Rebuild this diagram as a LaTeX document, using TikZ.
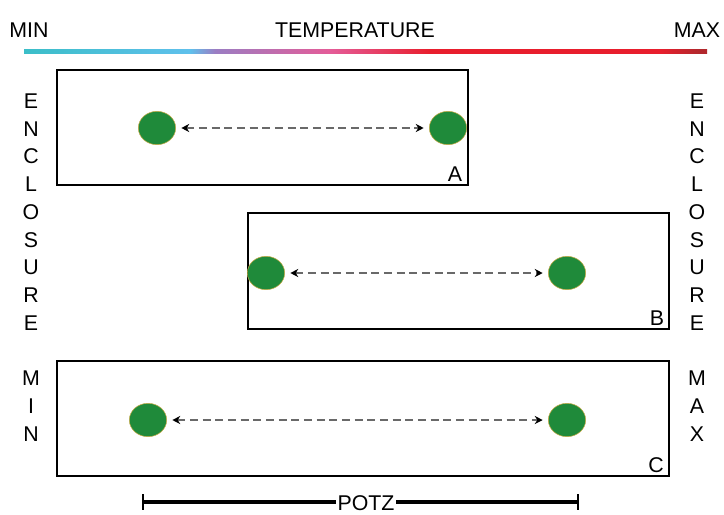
\documentclass[tikz,border=0pt]{standalone}
\usepackage{fontspec}
\setmainfont{Liberation Sans}
\usetikzlibrary{arrows.meta,shapes.geometric}

\definecolor{blobgreen}{RGB}{31,138,58}
\definecolor{blobrim}{RGB}{196,170,70}
\definecolor{dashgray}{RGB}{105,105,105}
\definecolor{tteal}{RGB}{59,190,200}
\definecolor{tblue}{RGB}{95,192,236}
\definecolor{tpurple}{RGB}{155,125,195}
\definecolor{tpink}{RGB}{228,92,152}
\definecolor{tred}{RGB}{232,30,45}
\definecolor{tdark}{RGB}{178,40,45}

\pgfdeclarehorizontalshading{tempbar}{100bp}{color(0bp)=(tteal); color(25bp)=(tteal);
  color(37.15bp)=(tblue); color(39bp)=(tpurple); color(47.4bp)=(tpink);
  color(54.7bp)=(tred); color(71.55bp)=(tred); color(74.4bp)=(tdark);
  color(75bp)=(tdark); color(100bp)=(tdark)}

\tikzset{every picture/.style={line width=0.75pt}}
\tikzset{
  lbl/.style={inner sep=0.75pt, font=\fontsize{16}{18}\selectfont},
  encl/.style={draw=black, line width=1.2pt},
  blob/.style={ellipse, fill=blobgreen, draw=blobrim, line width=0.4pt,
    minimum width=28pt, minimum height=25pt, inner sep=0pt},
  link/.style={draw=dashgray, line width=1.1pt, dash pattern=on 6pt off 3.5pt,
    {Stealth[black,length=6pt,width=6pt]}-{Stealth[black,length=6pt,width=6pt]},
    shorten <=4pt, shorten >=4pt},
  scalebar/.style={draw=black, line width=3pt},
}

\begin{document}
\begin{tikzpicture}[x=0.75pt,y=0.75pt,yscale=-1,xscale=1]
\useasboundingbox (0,0) rectangle (724,514);

% Temperature bar
\shade [shading=tempbar] (24,49.5) rectangle (707,53);

% Text Node
\node [lbl] (tmin) at (29,30) {MIN};
\node [lbl] (temp) at (355,30) {TEMPERATURE};
\node [lbl] (tmax) at (697,30) {MAX};

% Enclosures
\draw [encl] (57,70) rectangle (468,185);
\draw [encl] (248,213) rectangle (669,329);
\draw [encl] (57,361) rectangle (669,476);
\node [lbl] (labA) at (455,174) {A};
\node [lbl] (labB) at (657,318) {B};
\node [lbl] (labC) at (656,465) {C};

% Side labels
\foreach \ch [count=\i from 0] in {E,N,C,L,O,S,U,R,E}
{
  \node [lbl] (enclL\i) at (31,{101+27.75*\i}) {\ch};
  \node [lbl] (enclR\i) at (697,{101+27.75*\i}) {\ch};
}
\foreach \ch [count=\i from 0] in {M,I,N}
  \node [lbl] (sminL\i) at (31,{378+28*\i}) {\ch};
\foreach \ch [count=\i from 0] in {M,A,X}
  \node [lbl] (smaxR\i) at (697,{378+28*\i}) {\ch};

% Blobs
\node [blob] (aL) at (157,128) {};
\node [blob] (aR) at (448,128) {};
\node [blob] (bL) at (266,273) {};
\node [blob] (bR) at (567,273) {};
\node [blob] (cL) at (148,420) {};
\node [blob] (cR) at (567,420) {};

\draw [link] (aL) -- (aR);
\draw [link] (bL) -- (bR);
\draw [link] (cL) -- (cR);

% Scale bar
\node [lbl, inner sep=1pt] (potz) at (366,503.5) {POTZ};
\coordinate (potzL) at (143,502);
\coordinate (potzR) at (578,502);
\draw [scalebar] (potzL) -- (potz.west |- potzL);
\draw [scalebar] (potz.east |- potzR) -- (potzR);
\draw [line width=1pt] (143,494) -- (143,510);
\draw [line width=1pt] (578,494) -- (578,510);
\end{tikzpicture}
\end{document}
